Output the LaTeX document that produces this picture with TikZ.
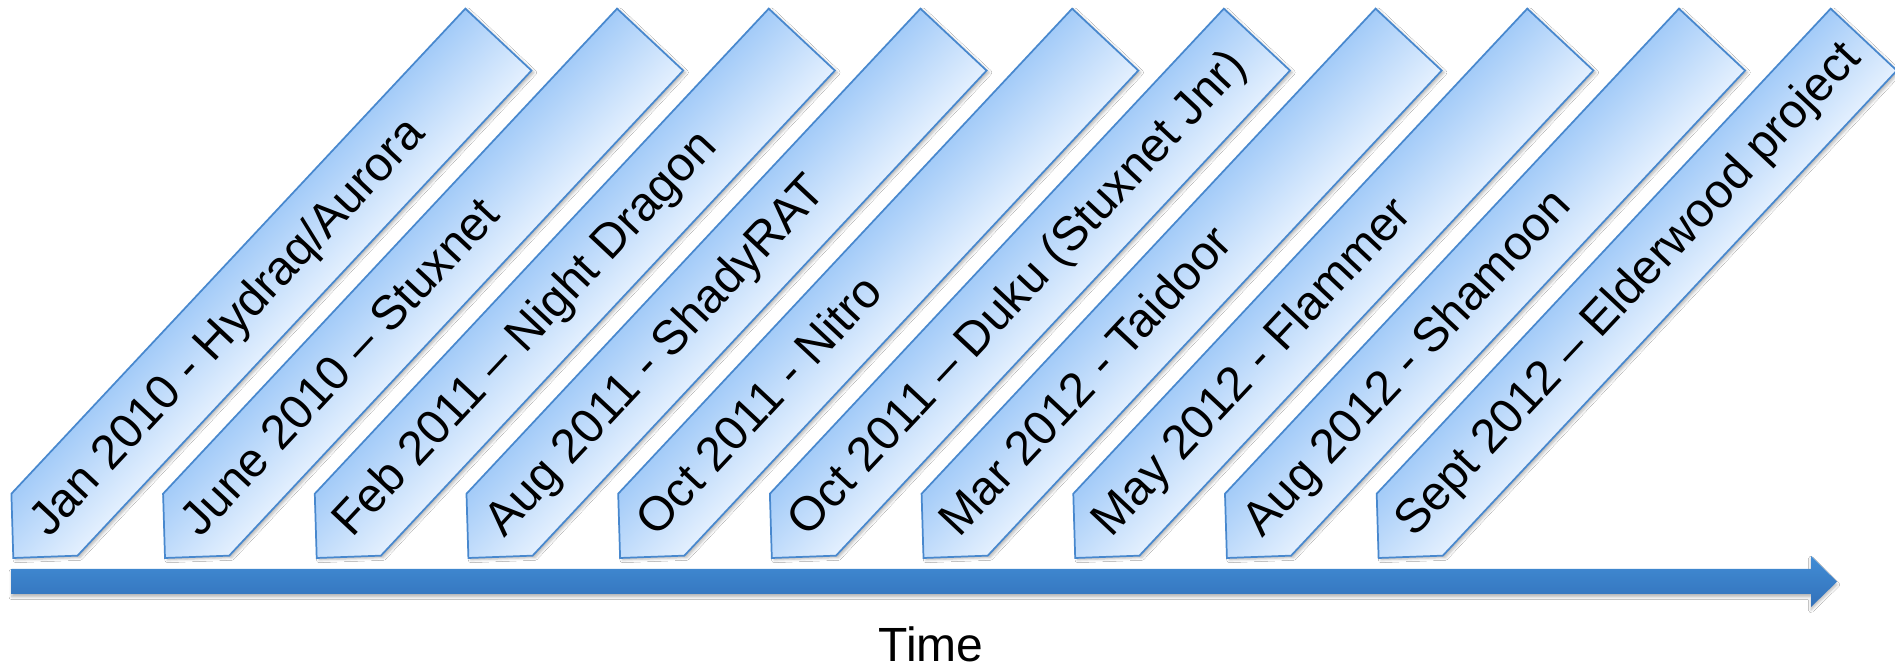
\documentclass[tikz,border=0pt]{standalone}
\usepackage{fontspec}
\setmainfont{Liberation Sans}
\usetikzlibrary{shadows.blur}
\definecolor{bandDark}{RGB}{163,203,248}
\definecolor{bandLight}{RGB}{228,240,254}
\definecolor{bandEdge}{RGB}{72,136,206}
\definecolor{axisTop}{RGB}{66,141,213}
\definecolor{axisBot}{RGB}{50,113,186}
\tikzset{
  band/.style={draw=bandEdge, line width=1.3pt, line join=miter,
    top color=bandDark, bottom color=bandLight,
    blur shadow={shadow xshift=0.2pt, shadow yshift=-2.4pt,
      shadow blur radius=2pt, shadow opacity=28}},
  bandlabel/.style={anchor=base west, inner sep=0pt, text=black,
    font=\fontsize{36}{40}\selectfont},
  axisarrow/.style={top color=axisTop, bottom color=axisBot, draw=none,
    blur shadow={shadow xshift=0pt, shadow yshift=-2.2pt,
      shadow blur radius=2pt, shadow opacity=28}},
  timelabel/.style={anchor=base, inner sep=0pt, text=black,
    font=\fontsize{36}{40}\selectfont}
}
\begin{document}
\begin{tikzpicture}[x=0.75pt, y=0.75pt]
  \useasboundingbox (0,0) rectangle (1895,666);
  \fill[white] (0,0) rectangle (1895,666);

  % time axis
  \path[axisarrow] (11.7,97) -- (1811,97) -- (1811,110) -- (1837,84.3)
    -- (1811,59) -- (1811,72) -- (11.7,72) -- cycle;
  \node[timelabel] (time) at (931,4) {Time};

  % event banners, each a pentagon pointing down to the axis
  \foreach \k/\txt in {
      0/{Jan 2010 - Hydraq/Aurora},
      1/{June 2010 – Stuxnet},
      2/{Feb 2011 – Night Dragon},
      3/{Aug 2011 - ShadyRAT},
      4/{Oct 2011 - Nitro},
      5/{Oct 2011 – Duku (Stuxnet Jnr)},
      6/{Mar 2012 - Taidoor},
      7/{May 2012 - Flammer},
      8/{Aug 2012 - Shamoon},
      9/{Sept 2012 – Elderwood project}} {
    \begin{scope}[transform canvas={shift={({13.3+151.7*\k},108)}, rotate=46.9}]
      \path[band] (0,0) -- (45.6,45.3) -- (710,45.3) -- (710,-45.3)
        -- (45.6,-45.3) -- cycle;
      \node[bandlabel] (ev\k) at (38.5,-13) {\txt};
    \end{scope}
  }
\end{tikzpicture}
\end{document}
